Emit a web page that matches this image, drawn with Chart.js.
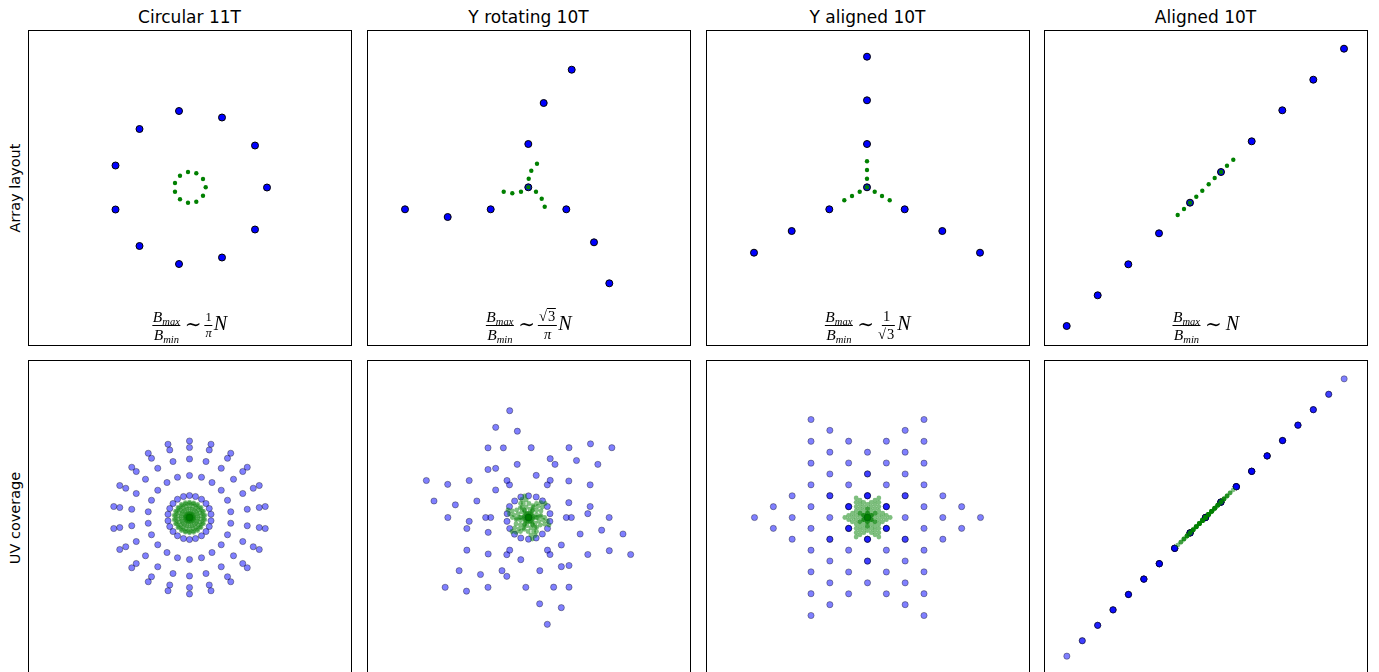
<!DOCTYPE html>
<html>
<head>
<meta charset="utf-8">
<script src="https://cdn.jsdelivr.net/npm/chart.js@4.4.1/dist/chart.umd.min.js"></script>
<style>
  html, body { margin: 0; padding: 0; background: #fff; }
  body { width: 1379px; height: 672px; overflow: hidden; position: relative; font-family: 'DejaVu Sans', sans-serif; }
  .panel { position: absolute; width: 324px; height: 316px; }
  .title { position: absolute; top: 7px; font-size: 17px; color: #000; transform: translateX(-50%); white-space: nowrap; line-height: 20px; }
  .rowlabel { position: absolute; left: 15px; font-size: 14.5px; color: #000; white-space: nowrap; transform: translate(-50%, -50%) rotate(-90deg); line-height: 18px; }
  .formula { position: absolute; top: 305px; height: 40px; display: flex; align-items: center; transform: translateX(-50%);
             font-family: 'Liberation Serif', 'DejaVu Serif', serif; color: #000; white-space: nowrap; }
  .frac { display: inline-flex; flex-direction: column; align-items: center; }
  .frac > span { display: block; text-align: center; line-height: 1; }
  .big > .num { font-size: 15.5px; height: 15px; border-bottom: 1.3px solid #000; padding: 0 1px 1px; }
  .big > .den { font-size: 15.5px; height: 15px; padding: 1px 1px 0; }
  .small > .num { height: 13px; border-bottom: 1.2px solid #000; padding: 0 1px 1px; display: flex; align-items: flex-end; justify-content: center; }
  .small > .den { height: 13px; padding: 1px 1px 0; }
  .frac sub { font-size: 10.5px; vertical-align: -3px; font-style: italic; line-height: 0; }
  .sim { font-size: 20px; margin: 0 3px 0 4px; position: relative; top: -1px; }
  .N { font-size: 20px; font-style: italic; position: relative; top: -2px; margin-left: 1px; }
  .rad { border-top: 1px solid #000; padding: 0 1px; }
</style>
</head>
<body>

<script>
// station positions (pixels from panel centre, y up)
const titles = ['Circular 11T', 'Y rotating 10T', 'Y aligned 10T', 'Aligned 10T'];
const rowLabels = ['Array layout', 'UV coverage'];

const circularBlue = [[-10.5, 76.5], [32.5, 70], [65.5, 42], [77.5, 0], [65.5, -42], [32.5, -70],
  [-10.5, -76.5], [-50, -58.5], [-74, -22], [-74, 22], [-50, 58.5]];
const circularGreen = [[-1.5, 15.5], [6.8, 14.2], [13.5, 8.5], [16.2, 0.2], [13.5, -8.2], [6.8, -14.2],
  [-1.5, -15.2], [-9.5, -11.8], [-14.5, -4.2], [-14.5, 4.5], [-9.5, 11.8]];

const yRotBlue = [[-0.2, 0.2], [-0.2, 43.5], [15.2, 84.5], [43.2, 117.8], [-37.8, -21.8], [-80.8, -29.5],
  [-123.5, -21.8], [37.8, -21.8], [65.5, -54.8], [80.8, -95.8]];
const yRotGreen = [[-0.2, 0.2], [0.2, 8.8], [2.8, 16.8], [8.5, 23.8], [-7.5, -4.2], [-16.2, -5.8],
  [-24.8, -4.2], [7.5, -4.2], [13.2, -11.2], [16.2, -19.2]];

const yAlignBlue = [[-0.5, 0.2], [-0.5, 43.5], [-0.5, 87.2], [-0.5, 130.8], [-38.2, -21.8], [-75.8, -43.5],
  [-113.5, -65.2], [37.2, -21.8], [74.8, -43.5], [112.5, -65.2]];
const yAlignGreen = [[-0.5, 0.2], [-0.5, 8.8], [-0.5, 17.5], [-0.5, 26.2], [-7.8, -4.2], [-15.5, -8.5],
  [-23.2, -12.8], [7.2, -4.2], [14.5, -8.5], [22.2, -12.8]];

const alignedBlue = [[-138.8, -138.5], [-107.8, -107.8], [-77.2, -76.8], [-46.5, -45.8], [-15.5, -15.2],
  [15.5, 15.5], [46.2, 46.2], [76.8, 77.2], [107.8, 107.8], [138.5, 138.8]];
const alignedGreen = [[-27.8, -27.5], [-21.5, -21.5], [-15.5, -15.2], [-9.2, -9.2], [-3.2, -3.2],
  [3.2, 3.2], [9.2, 9.5], [15.5, 15.5], [21.5, 21.8], [27.8, 27.8]];

const layouts = [
  [circularBlue, circularGreen],
  [yRotBlue, yRotGreen],
  [yAlignBlue, yAlignGreen],
  [alignedBlue, alignedGreen]
];
</script>

<script>
const panelLeft = [28, 367, 706, 1044];
const rowTop = [30, 360];

// uv coverage = every baseline between two stations of the same array
function baselines(st) {
  const out = [];
  st.forEach(a => st.forEach(b => out.push([a[0] - b[0], a[1] - b[1]])));
  return out;
}

const frame = {
  id: 'frame',
  afterDraw(chart) {
    const a = chart.chartArea, c = chart.ctx;
    c.save();
    c.strokeStyle = '#000';
    c.lineWidth = 1;
    c.strokeRect(a.left + 0.5, a.top + 0.5, a.right - a.left - 1, a.bottom - a.top - 1);
    c.restore();
  }
};

const formulas = [
  '<span class="frac small" style="font-size:12.5px"><span class="num">1</span><span class="den"><i>π</i></span></span>',
  '<span class="frac small" style="font-size:14.5px"><span class="num"><span>√</span><span class="rad">3</span></span><span class="den"><i>π</i></span></span>',
  '<span class="frac small" style="font-size:14.5px"><span class="num">1</span><span class="den"><span>√</span><span class="rad">3</span></span></span>',
  ''
];

titles.forEach((t, i) => {
  const d = document.createElement('div');
  d.className = 'title';
  d.style.left = (panelLeft[i] + 161.5) + 'px';
  d.textContent = t;
  document.body.appendChild(d);
});

rowLabels.forEach((t, r) => {
  const d = document.createElement('div');
  d.className = 'rowlabel';
  d.style.top = (rowTop[r] + 157.5) + 'px';
  d.textContent = t;
  document.body.appendChild(d);
});

layouts.forEach(([blue, green], i) => {
  [0, 1].forEach(row => {
    const uv = row === 1;
    const box = document.createElement('div');
    box.className = 'panel';
    box.style.left = panelLeft[i] + 'px';
    box.style.top = rowTop[row] + 'px';
    const cv = document.createElement('canvas');
    cv.width = 324;
    cv.height = 316;
    box.appendChild(cv);
    document.body.appendChild(box);

    const b = uv ? baselines(blue) : blue;
    const g = uv ? baselines(green) : green;
    const k = uv ? 2 : 1;

    new Chart(cv.getContext('2d'), {
      type: 'scatter',
      data: {
        datasets: [
          {
            label: 'small',
            data: g.map(p => ({ x: p[0], y: p[1] })),
            pointRadius: uv ? 2.4 : 2.2,
            pointBackgroundColor: uv ? 'rgba(0,128,0,0.5)' : 'rgb(0,128,0)',
            pointBorderWidth: 0,
            order: 0
          },
          {
            label: 'large',
            data: b.map(p => ({ x: p[0], y: p[1] })),
            pointRadius: uv ? 3.1 : 3.5,
            pointBackgroundColor: uv ? 'rgba(0,0,255,0.5)' : '#0000ff',
            pointBorderColor: uv ? 'rgba(0,0,0,0.5)' : '#000',
            pointBorderWidth: uv ? 0.7 : 1,
            order: 1
          }
        ]
      },
      options: {
        responsive: false,
        animation: false,
        devicePixelRatio: 1,
        layout: { padding: 0, autoPadding: false },
        plugins: { legend: { display: false }, tooltip: { enabled: false } },
        scales: {
          x: { display: false, min: -161.5 * k, max: 162.5 * k },
          y: { display: false, min: -158.5 * k, max: 157.5 * k }
        }
      },
      plugins: [frame]
    });

    if (!uv) {
      const f = document.createElement('div');
      f.className = 'formula';
      f.style.left = (panelLeft[i] + 161.5) + 'px';
      f.innerHTML = '<span class="frac big"><span class="num"><i>B</i><sub>max</sub></span>' +
        '<span class="den"><i>B</i><sub>min</sub></span></span>' +
        '<span class="sim">∼</span>' + formulas[i] + '<span class="N">N</span>';
      document.body.appendChild(f);
    }
  });
});
</script>
</body>
</html>
